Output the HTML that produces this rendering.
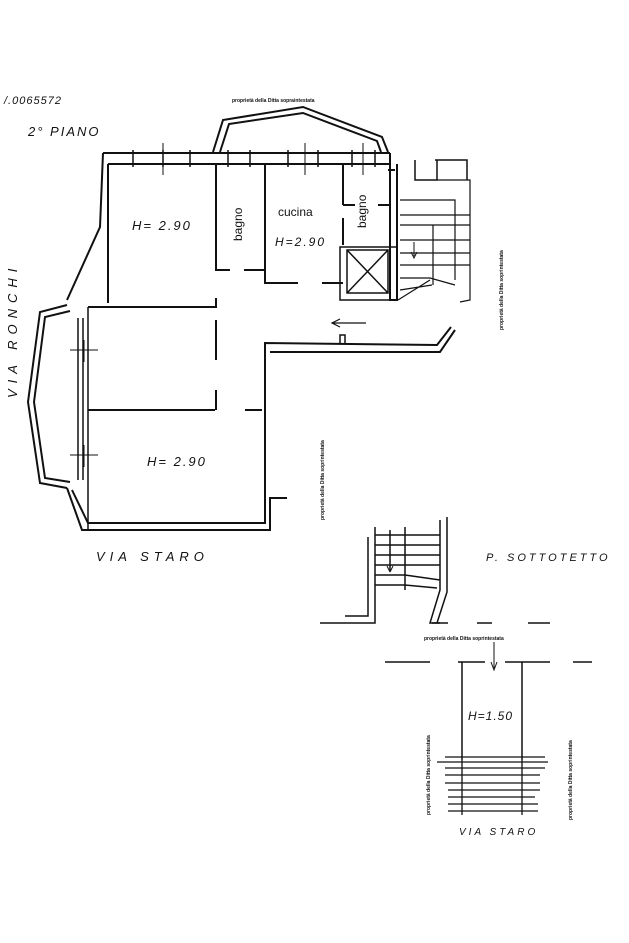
<!DOCTYPE html>
<html><head><meta charset="utf-8"><style>
html,body{margin:0;padding:0;background:#fff}
svg{display:block}
text{font-family:"Liberation Sans",sans-serif;fill:#111}
.h{font-style:italic;font-size:13px;letter-spacing:2px}
.s{font-size:5px;font-weight:bold}
</style></head><body>
<svg width="629" height="943" viewBox="0 0 629 943" xmlns="http://www.w3.org/2000/svg">
<g fill="none" stroke="#111" stroke-width="2">
<!-- top exterior wall -->
<path d="M103 153 L390 153 M108 164 L390 164"/>
<path d="M103 153 L100 227 L67 300 M108 164 L108 303"/>
<!-- bay top -->
<path d="M213 152 L223 120 L303 107 L382 137 L388 152 M220 152 L229 124 L303 113 L377 141 L381 152"/>
<!-- windows top -->
<path d="M133 150 L133 167 M163 150 L163 167 M190 150 L190 167 M228 150 L228 167 M250 150 L250 167 M288 150 L288 167 M318 150 L318 167 M352 150 L352 167 M375 150 L375 167" stroke-width="1.5"/>
<path d="M163 143 L163 175 M305 143 L305 175 M363 143 L363 175" stroke-width="1"/>
<!-- right edge near stairs -->
<path d="M390 153 L390 300 L397 300 L397 164 M388 170 L395 170"/>
<!-- bay window left -->
<path d="M67 305 L40 312 L28 402 L40 483 L67 488 M70 311 L45 317 L34 402 L45 478 L70 482"/>
<path d="M78 318 L78 480 M88 307 L88 530 M83 318 L83 480" stroke-width="1.5"/>
<path d="M70 350 L98 350 M70 455 L98 455 M84 340 L84 362 M84 445 L84 467" stroke-width="1"/>
<!-- lower outer -->
<path d="M67 488 L82 530 L270 530 L270 498 L287 498 M72 490 L88 523 L265 523 L265 343 L437 345 L451 327 M270 352 L440 352 L455 330"/>
<path d="M340 343 L340 335 L345 335 L345 343" stroke-width="1.5"/>
<!-- inner walls -->
<path d="M88 307 L216 307 L216 298 M216 320 L216 360 M216 390 L216 410 M88 410 L215 410 M245 410 L262 410"/>
<path d="M216 164 L216 270 L230 270 M244 270 L265 270 L265 164 M265 200 L265 283 L298 283 M322 283 L343 283 M343 164 L343 205 M343 218 L343 245"/>
<path d="M343 205 L355 205 M378 205 L390 205"/>
<!-- lift -->
<path d="M340 247 L397 247 L397 300 L340 300 Z M347 250 L388 250 L388 293 L347 293 Z M347 250 L388 293 M388 250 L347 293" stroke-width="1.5"/>
<!-- stairs top right -->
<path d="M415 160 L415 180 L437 180 L437 160 M467 180 L467 160 L435 160" stroke-width="1.5"/>
<path d="M400 200 L455 200 L455 280 M437 180 L470 180 L470 300 L460 302 M400 215 L470 215 M400 225 L470 225 M400 240 L470 240 M400 253 L470 253 M400 265 L470 265 M400 278 L430 278 L455 285 M400 290 L432 285 M398 300 L430 280 M433 225 L433 285" stroke-width="1.2"/>
<path d="M414 242 L414 256 M411 252 L414 258 L417 252" stroke-width="1"/>
<!-- arrow corridor -->
<path d="M366 323 L333 323 M340 319 L332 323 L340 327" stroke-width="1.2"/>
<!-- lower stairs -->
<path d="M320 623 L375 623 L375 527 M345 616 L368 616 L368 537 M375 535 L440 535 M375 545 L440 545 M375 555 L440 555 M375 565 L440 565 M375 575 L405 575 L440 580 M375 585 L405 585 L437 588 M405 527 L405 590 M390 530 L390 570 M440 520 L440 590 L430 623 L440 623 M447 517 L447 592 L437 623" stroke-width="1.5"/>
<path d="M390 565 L390 572 L387 566 M393 566 L390 572" stroke-width="1"/>
<path d="M432 623 L448 623 M477 623 L492 623 M528 623 L550 623 M385 662 L430 662 M458 662 L485 662 M505 662 L550 662 M573 662 L592 662" stroke-width="1.5"/>
<path d="M462 662 L462 760 M522 662 L522 760" stroke-width="1.5"/>
<path d="M494 642 L494 668 M491 662 L494 670 L497 662" stroke-width="1"/>
<g stroke-width="1.3">
<path d="M445 757 L545 757 M437 762 L548 762 M445 768 L545 768 M445 775 L540 775 M445 783 L540 783 M448 790 L540 790 M448 797 L535 797 M448 804 L538 804 M448 811 L538 811 M462 760 L462 815 M522 760 L522 815"/>
</g>
</g>
<text x="4" y="104" class="h" font-size="11" style="font-size:11px;letter-spacing:1px">/.0065572</text>
<text x="28" y="136" class="h">2° PIANO</text>
<text x="232" y="102" class="s">proprietà della Ditta sopraintestata</text>
<text x="132" y="230" class="h">H= 2.90</text>
<text x="275" y="246" class="h" style="font-size:12px">H=2.90</text>
<text x="278" y="216" style="font-size:12px">cucina</text>
<text transform="translate(242,241) rotate(-90)" style="font-size:12px">bagno</text>
<text transform="translate(366,228) rotate(-90)" style="font-size:12px">bagno</text>
<text x="147" y="466" class="h">H= 2.90</text>
<text transform="translate(17,398) rotate(-90)" class="h" style="letter-spacing:6px">VIA RONCHI</text>
<text x="96" y="561" class="h" style="letter-spacing:5px">VIA STARO</text>
<text transform="translate(324,520) rotate(-90)" class="s">proprietà della Ditta soprintestata</text>
<text transform="translate(503,330) rotate(-90)" class="s">proprietà della Ditta soprintestata</text>
<text x="486" y="561" class="h" style="font-size:11px;letter-spacing:3px">P. SOTTOTETTO</text>
<text x="424" y="640" class="s">proprietà della Ditta soprintestata</text>
<text x="468" y="720" class="h" style="font-size:12px;letter-spacing:1px">H=1.50</text>
<text x="459" y="835" class="h" style="font-size:10px;letter-spacing:3px">VIA STARO</text>
<text transform="translate(430,815) rotate(-90)" class="s">proprietà della Ditta soprintestata</text>
<text transform="translate(572,820) rotate(-90)" class="s">proprietà della Ditta soprintestata</text>
</svg>
</body></html>
